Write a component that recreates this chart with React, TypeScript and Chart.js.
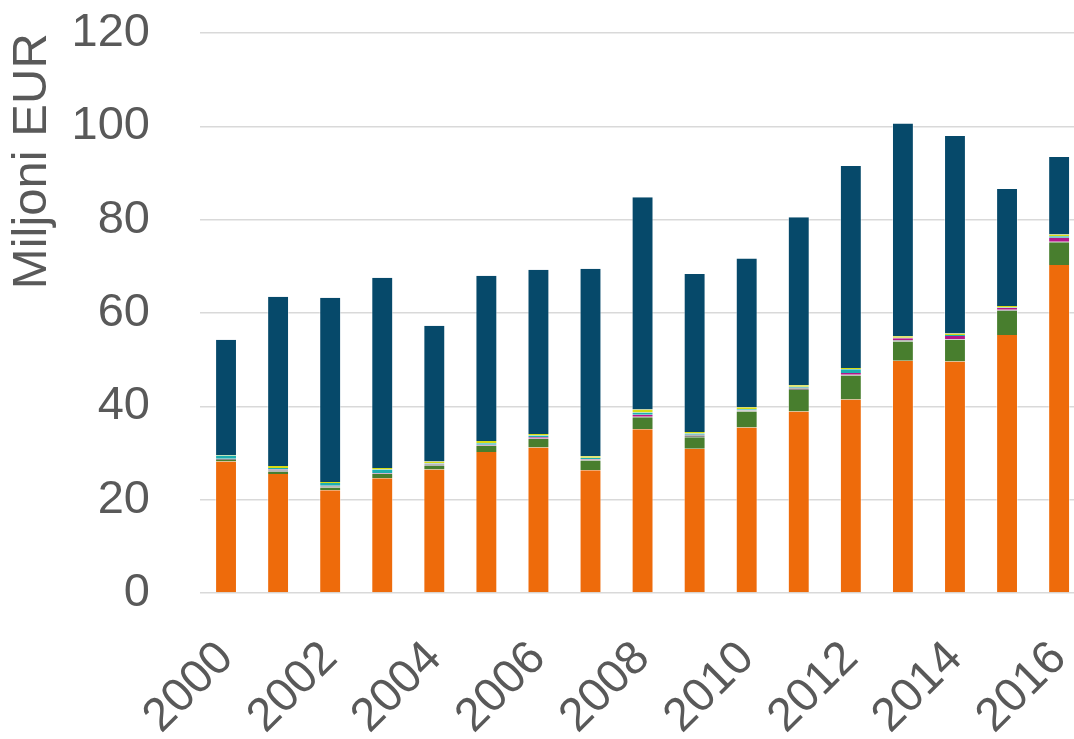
import React, { useEffect, useRef } from "react";
import { Chart, registerables } from "chart.js";

Chart.register(...registerables);

const years = ["2000","2001","2002","2003","2004","2005","2006","2007","2008","2009","2010","2011","2012","2013","2014","2015","2016"];
const yTicks = [0, 20, 40, 60, 80, 100, 120];

const orangeSeries = [28.2, 25.5, 22.0, 24.6, 26.5, 30.2, 31.2, 26.3, 35.1, 30.9, 35.5, 38.9, 41.5, 49.8, 49.6, 55.3, 70.3];
const greenSeries = [0.3, 0.5, 0.6, 0.9, 0.8, 1.3, 1.8, 2.1, 2.6, 2.5, 3.4, 4.6, 5.1, 4.1, 4.7, 5.2, 4.9];
const graySeries = [0.3, 0.3, 0.3, 0.1, 0.3, 0.1, 0.1, 0.2, 0.1, 0.4, 0.2, 0.4, 0.2, 0.3, 0.1, 0.2, 0.1];
const magentaSeries = [0.0, 0.2, 0.1, 0.1, 0.1, 0.2, 0.3, 0.1, 0.4, 0.1, 0.1, 0.1, 0.35, 0.4, 0.7, 0.4, 0.85];
const tealSeries = [0.7, 0.3, 0.6, 0.8, 0.1, 0.3, 0.35, 0.3, 0.5, 0.3, 0.2, 0.2, 0.8, 0.1, 0.2, 0.1, 0.35];
const yellowSeries = [0.1, 0.4, 0.2, 0.3, 0.4, 0.5, 0.35, 0.3, 0.65, 0.3, 0.4, 0.35, 0.3, 0.35, 0.35, 0.3, 0.35];
const darkSeries = [24.7, 36.3, 39.5, 40.8, 29.1, 35.4, 35.2, 40.2, 45.5, 33.9, 31.9, 36.0, 43.3, 45.6, 42.3, 25.1, 16.6];

const yTitle = "Miljoni EUR";

export default function App() {
  const ref = useRef<HTMLCanvasElement | null>(null);

  useEffect(() => {
    document.body.style.margin = "0";
    document.body.style.overflow = "hidden";
    const canvas = ref.current;
    if (!canvas) return;
    const font = "'Liberation Sans', Arial, sans-serif";
    const mk = (label: string, data: number[], color: string) => ({
      label,
      data,
      backgroundColor: color,
      borderColor: "rgba(255,255,255,0.45)",
      borderWidth: { left: 1, right: 1, top: 0, bottom: 0 },
      borderSkipped: false as const,
      barPercentage: 0.42,
      categoryPercentage: 1,
    });
    const chart = new Chart(canvas, {
      type: "bar",
      data: {
        labels: years,
        datasets: [
          mk("A", orangeSeries, "#EE6B0B"),
          mk("B", greenSeries, "#487E2E"),
          mk("C", graySeries, "#8C8C8C"),
          mk("D", magentaSeries, "#B3178A"),
          mk("E", tealSeries, "#1DAFB0"),
          mk("F", yellowSeries, "#D7DC14"),
          mk("G", darkSeries, "#06496A"),
        ],
      },
      options: {
        responsive: false,
        animation: false,
        devicePixelRatio: 1,
        layout: { padding: { top: 0, left: 0, right: 0, bottom: 0 } },
        plugins: { legend: { display: false }, tooltip: { enabled: false }, title: { display: false } },
        scales: {
          x: {
            stacked: true,
            grid: { display: false },
            border: { display: false },
            ticks: {
              autoSkip: false,
              minRotation: 45,
              maxRotation: 45,
              padding: 30,
              color: "#595959",
              font: { family: font, size: 47 },
              callback: (_v: any, i: number) => (i % 2 === 0 ? years[i] : ""),
            },
            afterFit: (s: any) => { s.height = 146; },
          },
          y: {
            stacked: true,
            min: 0,
            max: 120,
            afterBuildTicks: (s: any) => { s.ticks = yTicks.map((v) => ({ value: v })); },
            grid: { color: "#D9D9D9", lineWidth: 1.5, drawTicks: false },
            border: { display: false },
            ticks: {
              padding: 50,
              color: "#595959",
              font: { family: font, size: 47 },
            },
            title: {
              display: true,
              text: yTitle,
              align: "end",
              color: "#595959",
              font: { family: font, size: 49 },
              padding: { top: 3, bottom: 0 },
            },
            afterFit: (s: any) => { s.width = 200; },
          },
        },
      },
    });
    return () => chart.destroy();
  }, []);

  return (
    <div style={{ width: 1129, height: 784, marginTop: -45, overflow: "hidden" }}>
      <canvas ref={ref} width={1129} height={784} style={{ display: "block" }} />
    </div>
  );
}
